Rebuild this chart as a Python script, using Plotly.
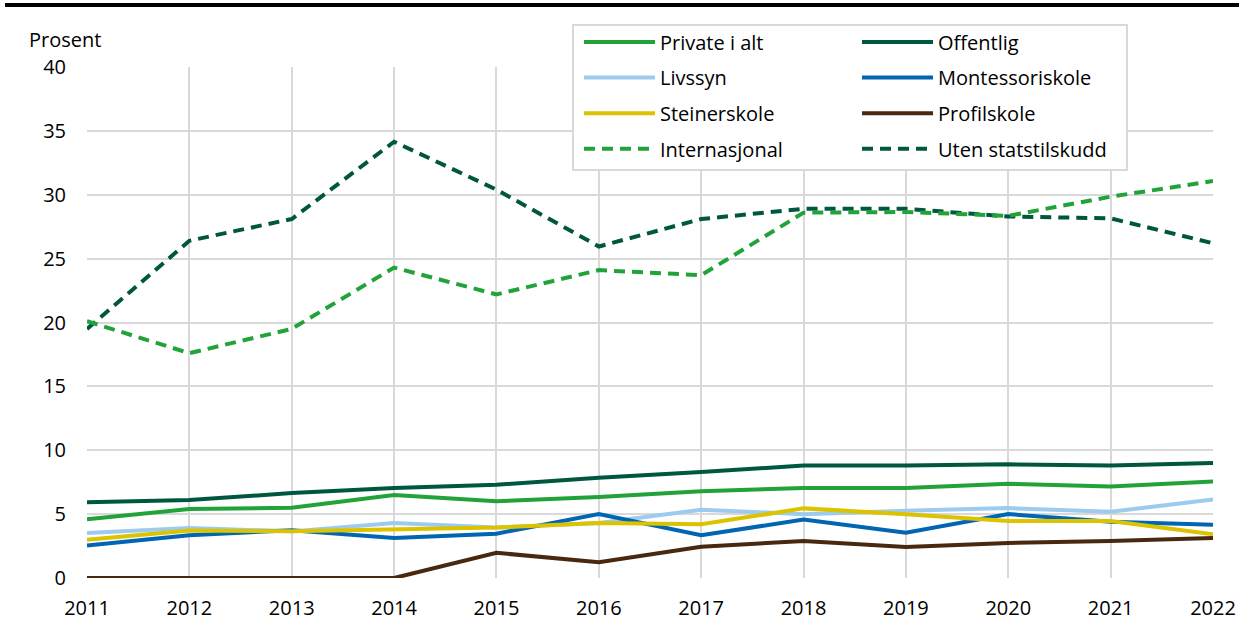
import plotly.graph_objects as go

years = [2011, 2012, 2013, 2014, 2015, 2016, 2017, 2018, 2019, 2020, 2021, 2022]

private_i_alt = [4.6, 5.4, 5.5, 6.5, 6.0, 6.35, 6.8, 7.05, 7.05, 7.37, 7.16, 7.55]
offentlig = [5.92, 6.1, 6.65, 7.05, 7.3, 7.85, 8.29, 8.8, 8.8, 8.9, 8.8, 9.0]
livssyn = [3.53, 3.92, 3.65, 4.3, 3.95, 4.3, 5.34, 5.0, 5.26, 5.47, 5.18, 6.15]
montessoriskole = [2.55, 3.34, 3.74, 3.13, 3.47, 5.0, 3.34, 4.58, 3.55, 5.0, 4.4, 4.16]
steinerskole = [3.0, 3.71, 3.66, 3.8, 3.95, 4.3, 4.2, 5.45, 5.0, 4.47, 4.47, 3.42]
profilskole = [0, 0, 0, 0, 1.97, 1.24, 2.45, 2.9, 2.42, 2.74, 2.9, 3.13]
internasjonal = [20.1, 17.6, 19.5, 24.3, 22.2, 24.1, 23.7, 28.6, 28.65, 28.35, 29.85, 31.07]
uten_statstilskudd = [19.5, 26.4, 28.1, 34.15, 30.4, 25.95, 28.1, 28.9, 28.9, 28.3, 28.15, 26.2]

y_ticks = [0, 5, 10, 15, 20, 25, 30, 35, 40]

GREEN = "#22A33A"
DARK = "#00573F"
LIGHTBLUE = "#9DCBEE"
BLUE = "#0065B3"
YELLOW = "#DCC300"
BROWN = "#48280F"
GRID = "#D9D9D9"
FONT = "Open Sans"
FS = 20

series = [
    ("Private i alt", private_i_alt, GREEN, "solid", "legend"),
    ("Livssyn", livssyn, LIGHTBLUE, "solid", "legend"),
    ("Steinerskole", steinerskole, YELLOW, "solid", "legend"),
    ("Internasjonal", internasjonal, GREEN, "11px,7px", "legend"),
    ("Offentlig", offentlig, DARK, "solid", "legend2"),
    ("Montessoriskole", montessoriskole, BLUE, "solid", "legend2"),
    ("Profilskole", profilskole, BROWN, "solid", "legend2"),
    ("Uten statstilskudd", uten_statstilskudd, DARK, "11px,7px", "legend2"),
]

draw_order = ["Uten statstilskudd", "Internasjonal", "Offentlig", "Private i alt",
              "Livssyn", "Montessoriskole", "Steinerskole", "Profilskole"]

fig = go.Figure()
lookup = {s[0]: s for s in series}
rank = {s[0]: i for i, s in enumerate(series)}
for name in draw_order:
    n, vals, col, dash, leg = lookup[name]
    fig.add_trace(go.Scatter(
        x=years, y=vals, name=n, mode="lines",
        line=dict(color=col, width=4, dash=dash),
        legend=leg, legendgroup=n, legendrank=rank[n],
    ))

W, H = 1239, 621
L, R, T, B = 87, 26, 67, 43
pw, ph = W - L - R, H - T - B

def px_x(x):
    return (x - L) / pw

def px_y(y):
    return 1 - (y - T) / ph

legend_common = dict(
    font=dict(family=FONT, size=FS, color="#000000"),
    bgcolor="rgba(0,0,0,0)", borderwidth=0,
    orientation="v", xanchor="left", yanchor="top",
    traceorder="grouped", tracegroupgap=6.6, itemwidth=71,
)

fig.update_layout(
    width=W, height=H,
    margin=dict(l=L, r=R, t=T, b=B, autoexpand=False),
    plot_bgcolor="white", paper_bgcolor="white",
    font=dict(family=FONT, size=FS, color="#000000"),
    showlegend=True,
    legend=dict(x=px_x(579), y=px_y(22.5), **legend_common),
    legend2=dict(x=px_x(857), y=px_y(22.5), **legend_common),
    xaxis=dict(
        range=[2011, 2022], tickmode="array", tickvals=years,
        ticktext=[str(y) for y in years],
        showgrid=True, gridcolor=GRID, gridwidth=2,
        zeroline=False, showline=False, ticks="", ticklabelstandoff=16,
        tickfont=dict(family=FONT, size=FS, color="#000000"),
        automargin=False,
    ),
    yaxis=dict(
        range=[0, 40], tickmode="array", tickvals=y_ticks,
        showgrid=True, gridcolor=GRID, gridwidth=2,
        zeroline=False, showline=False, ticks="", ticklabelstandoff=20,
        tickfont=dict(family=FONT, size=FS, color="#000000"),
        automargin=False,
    ),
    shapes=[
        dict(type="line", xref="paper", yref="paper",
             x0=px_x(5), x1=px_x(1239), y0=px_y(5), y1=px_y(5),
             line=dict(color="#000000", width=4), layer="above"),
        dict(type="rect", xref="paper", yref="paper",
             x0=px_x(573), x1=px_x(1127), y0=px_y(170), y1=px_y(25),
             fillcolor="white", line=dict(color=GRID, width=2), layer="above"),
    ],
    annotations=[
        dict(text="Prosent", xref="paper", yref="paper",
             x=px_x(27), y=px_y(40), xanchor="left", yanchor="middle",
             showarrow=False, font=dict(family=FONT, size=FS, color="#000000")),
    ],
)

fig.write_html("out.html", config={"displayModeBar": False},
               post_script="document.body.style.margin='0';")
